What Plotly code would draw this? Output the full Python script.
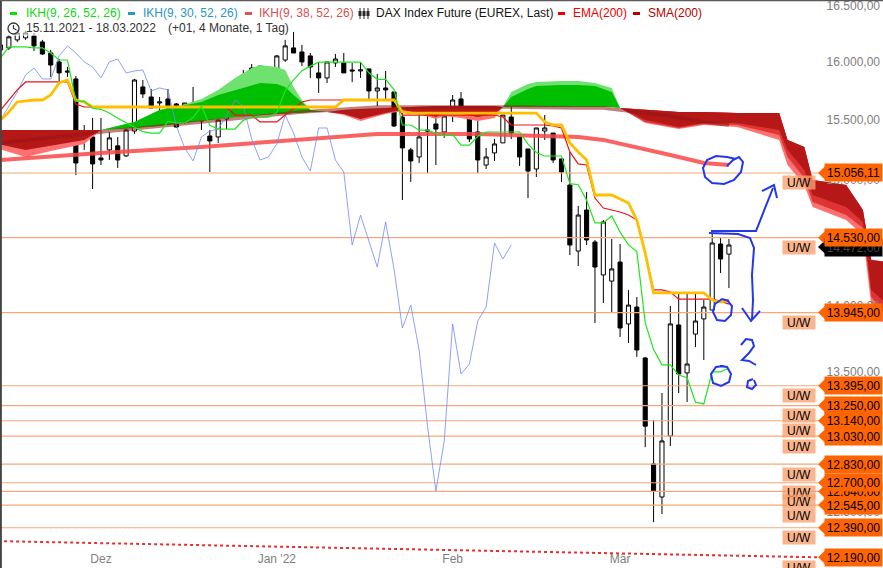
import math
import plotly.graph_objects as go

W, H = 883, 568
FONT = "Liberation Sans, Arial, sans-serif"

# ---------------- data (x = trading-day index, 0 = 15.11.2021 ... 87 = 18.03.2022) -------------
month_ticks = [12, 33, 54, 74]
month_labels = ["Dez", "Jan '22", "Feb", "Mär"]
price_ticks = [12500, 13000, 13500, 14000, 14500, 15000, 15500, 16000, 16500]

opens = [16109, 16127, 16198, 16216, 16234, 16180, 16082, 16003, 15924, 15854,
         15357, 15357, 15181, 15248, 15282, 15198, 15407, 15785, 15698, 15646,
         15681, 15638, 15543, 15646, 15586, 15365, 15357, 15509, 15612, 15759,
         15863, 15967, 15845, 15889, 16020, 16127, 16091, 16056, 15907, 15863,
         15994, 15994, 15933, 15924, 15942, 15750, 15776, 15741, 15526, 15248,
         15189, 15416, 15467, 15399, 15543, 15681, 15560, 15399, 15122, 15223,
         15307, 15526, 15357, 15256, 15089, 15407, 15390, 15173, 14957, 14424,
         14753, 14496, 14236, 14188, 14337, 13858, 13987, 13601, 12832, 12601,
         13030, 13850, 13490, 13781, 13896, 13964, 14480, 14400]
highs = [16198, 16243, 16287, 16278, 16260, 16198, 16109, 16029, 15959, 15880,
         15458, 15518, 15518, 15399, 15357, 15424, 15854, 15845, 15767, 15698,
         15767, 15646, 15646, 15785, 15590, 15416, 15501, 15663, 15785, 15933,
         15985, 15967, 15907, 16064, 16198, 16269, 16153, 16082, 16003, 16003,
         16073, 16082, 15994, 15994, 15942, 15898, 15924, 15741, 15586, 15265,
         15560, 15586, 15569, 15577, 15715, 15741, 15603, 15492, 15265, 15340,
         15543, 15612, 15357, 15256, 15433, 15543, 15390, 15173, 15231, 14785,
         14899, 14512, 14672, 14520, 14480, 14119, 14064, 13609, 13145, 13342,
         13995, 14095, 14095, 14088, 14041, 14568, 14528, 14520]
lows = [16091, 16109, 16180, 16198, 16100, 16064, 15871, 15828, 15871, 15039,
        15248, 14924, 15122, 15164, 15098, 15189, 15382, 15689, 15603, 15552,
        15595, 15433, 15467, 15484, 15416, 15064, 15307, 15424, 15586, 15663,
        15828, 15802, 15802, 15854, 16003, 16082, 15967, 15863, 15733, 15819,
        15959, 15907, 15828, 15863, 15663, 15620, 15663, 15441, 14834, 14982,
        15139, 15056, 15122, 15349, 15484, 15603, 15315, 15056, 15089, 15156,
        15307, 15340, 15114, 14850, 15023, 15332, 15139, 14982, 14392, 14306,
        14472, 13865, 14018, 13941, 13759, 13714, 13609, 12951, 12428, 12484,
        12959, 13342, 13276, 13683, 13586, 13964, 14251, 14134]
closes = [16153, 16225, 16260, 16260, 16145, 16073, 15976, 15907, 15915, 15139,
          15349, 15131, 15164, 15349, 15164, 15416, 15845, 15724, 15603, 15655,
          15603, 15441, 15646, 15595, 15492, 15323, 15501, 15620, 15741, 15889,
          15950, 15854, 15854, 16056, 16145, 16082, 16003, 15959, 15863, 16003,
          16029, 15907, 15924, 15933, 15750, 15776, 15759, 15450, 15265, 15156,
          15357, 15407, 15424, 15535, 15672, 15620, 15340, 15164, 15189, 15298,
          15543, 15390, 15189, 15072, 15433, 15433, 15164, 15064, 14472, 14712,
          14512, 14298, 14656, 14283, 13827, 14002, 13661, 13101, 12642, 12995,
          13858, 13482, 13556, 13880, 13987, 14488, 14361, 14472]
idx = list(range(len(closes)))

# IKH(9,26,52,26) conversion line (green)
tenkan = [16038, 16136, 16136, 16136, 16127, 16127, 16082, 16020, 16020, 15663,
          15663, 15601, 15592, 15561, 15516, 15476, 15441, 15402, 15389, 15389,
          15488, 15476, 15476, 15521, 15618, 15455, 15424, 15424, 15424, 15498,
          15524, 15524, 15524, 15564, 15752, 15846, 15927, 15966, 16001, 16001,
          16001, 16001, 16001, 16001, 15908, 15851, 15851, 15762, 15458, 15458,
          15414, 15414, 15388, 15366, 15379, 15288, 15288, 15362, 15399, 15399,
          15399, 15399, 15399, 15296, 15227, 15197, 15197, 15197, 14968, 14959,
          14832, 14649, 14649, 14704, 14575, 14473, 14420, 13868, 13664, 13550,
          13550, 13474, 13454, 13274, 13262, 13498, 13498, 13526]
# base line (thick yellow)
kijun = ([15501, 15569, 15655, 15663, 15672, 15672, 15715, 15819, 15845, 15672, 15655]
         + [15612] * 30 + [15672] * 7 + [15569] + [15560] * 16
         + [15484, 15458, 15458, 15307, 15231, 15164, 14875, 14875, 14875, 14842,
            14810, 14672, 14408]
         + [14096] * 7 + [14041, 14025, 14041])
# IKH(9,38,52,26) base line (thin red)
kijun38 = ([15586, 15672, 15759] + [15828] * 6 + [15638] + [15612] * 18
           + [15543] * 3 + [15484] * 3 + [15543, 15603, 15655] + [15672] * 11
           + [15543] * 12 + [15526] + [15458] * 5
           + [15450, 15433, 15231, 15131, 15122, 14850, 14769, 14753, 14737, 14712,
              14672, 14408, 14119, 14119, 14103]
           + [14048] * 5 + [14033, 14010])
chikou_shift = 26

ema_x = [0, 12, 24, 36, 45, 57, 69, 72, 76, 80, 84, 87]
ema_y = [15164, 15223, 15273, 15332, 15382, 15382, 15357, 15332, 15273, 15206, 15139, 15122]
sma_x = [0, 12, 24, 36, 45, 60, 69, 72, 80, 84, 87]
sma_y = [15307, 15399, 15484, 15569, 15612, 15612, 15603, 15603, 15535, 15484, 15458]

# Ichimoku clouds (shifted 26 days forward)
redL_x = [-1, 3, 6, 10, 12]
redL_top = [15416, 15416, 15416, 15416, 15416]
redL_dark = [15307, 15248, 15282, 15332, 15416]
redL_light = [15273, 15189, 15240, 15298, 15416]

grn1_x = [12, 16, 19, 21, 24, 26, 28, 30, 31, 33, 34, 35, 36, 37, 39]
grn1_dark = [15416, 15484, 15586, 15612, 15655, 15715, 15759, 15802, 15819, 15811, 15785, 15715, 15655, 15586, 15569]
grn1_light = [15416, 15484, 15586, 15612, 15681, 15759, 15863, 15950, 15976, 15959, 15933, 15785, 15672, 15586, 15569]
grn1_bot = [15416, 15433, 15450, 15467, 15492, 15509, 15526, 15535, 15543, 15552, 15552, 15560, 15560, 15569, 15569]

redM_x = [39, 41, 43, 46, 48, 50, 52, 53, 55, 57, 59, 60]
redM_top = [15569, 15586, 15595, 15603, 15612, 15620, 15620, 15620, 15620, 15620, 15620, 15612]
redM_dark = [15569, 15552, 15509, 15560, 15586, 15560, 15526, 15560, 15552, 15526, 15552, 15612]
redM_light = [15569, 15543, 15492, 15552, 15577, 15552, 15509, 15535, 15518, 15492, 15518, 15612]

grn2_x = [60, 61, 63, 64, 67, 69, 71, 73, 74]
grn2_dark = [15612, 15698, 15767, 15793, 15802, 15802, 15793, 15741, 15603]
grn2_light = [15612, 15741, 15811, 15828, 15837, 15837, 15819, 15776, 15603]
grn2_bot = [15612, 15612, 15612, 15612, 15612, 15612, 15612, 15612, 15603]

redR_x = [74, 77, 81, 84, 88, 91, 93, 94, 96, 97, 101, 103, 104, 106]
redR_top = [15603, 15586, 15569, 15569, 15560, 15560, 15560, 15332, 15273, 14998, 14957, 14753, 14353, 14337]
redR_b1 = [15603, 15501, 15441, 15475, 15475, 15441, 15416, 15248, 15081, 14875, 14777, 14656, 14119, 14002]
redR_b2 = [15603, 15484, 15433, 15467, 15458, 15407, 15374, 15189, 15015, 14818, 14712, 14608, 14064, 13903]
redR_b3 = [15603, 15475, 15424, 15458, 15441, 15374, 15332, 15122, 14957, 14777, 14672, 14552, 14002, 13812]

levels = [15056.11, 14530, 13945, 13395, 13250, 13140, 13030, 12830, 12700, 12640, 12545, 12390]
trend_x = [-1, 98]
trend_y = [12300, 12190]
trend_value = 12190

# ---------------- helpers ----------------
ylo, yhi = math.log10(12119), math.log10(16557)
xlo, xhi = -0.06, 105.4


def ypaper(v):
    return (math.log10(v) - ylo) / (yhi - ylo)


def de(v):
    s = f"{v:,.2f}"
    return s.replace(",", "X").replace(".", ",").replace("X", ".")


fig = go.Figure()


def band(x, upper, lower, color):
    fig.add_trace(go.Scatter(x=x + x[::-1], y=upper + lower[::-1], mode="lines",
                             fill="toself", fillcolor=color, line=dict(width=0),
                             hoverinfo="skip", showlegend=False))


def line(x, y, color, width, dash=None):
    fig.add_trace(go.Scatter(x=x, y=y, mode="lines",
                             line=dict(color=color, width=width, dash=dash),
                             hoverinfo="skip", showlegend=False))


# level lines
lvl_end = 97.7
for v in levels:
    line([-1, lvl_end], [v, v], "rgb(246,168,120)", 1.2)

# clouds
DARK_RED = "rgb(182,24,24)"
MID_RED = "rgb(222,52,52)"
LIGHT_RED = "rgb(255,112,112)"
DARK_GRN = "rgb(0,190,0)"
LIGHT_GRN = "rgb(110,225,110)"

band(redL_x, redL_top, redL_light, LIGHT_RED)
band(redL_x, redL_top, redL_dark, DARK_RED)
band(grn1_x, grn1_light, grn1_bot, LIGHT_GRN)
band(grn1_x, grn1_dark, grn1_bot, DARK_GRN)
band(redM_x, redM_top, redM_light, LIGHT_RED)
band(redM_x, redM_top, redM_dark, DARK_RED)
band(grn2_x, grn2_light, grn2_bot, LIGHT_GRN)
band(grn2_x, grn2_dark, grn2_bot, DARK_GRN)
band(redR_x, redR_top, redR_b3, LIGHT_RED)
band(redR_x, redR_top, redR_b2, MID_RED)
band(redR_x, redR_top, redR_b1, DARK_RED)

# trend line (dotted)
line(trend_x, trend_y, "rgb(235,45,45)", 2, "dot")

# moving averages
line(ema_x, ema_y, "rgba(250,70,70,0.85)", 4)
line(sma_x, sma_y, "rgba(150,20,20,0.55)", 3.5)

# ichimoku lines
line(idx[:-chikou_shift], closes[chikou_shift:], "rgba(110,140,250,0.8)", 1)
line(idx, kijun38, "rgb(235,20,20)", 1.2)
line(idx, kijun, "rgb(255,190,0)", 2.8)
line(idx, tenkan, "rgb(30,230,30)", 1.2)

# candles
fig.add_trace(go.Candlestick(
    x=idx, open=opens, high=highs, low=lows, close=closes,
    increasing=dict(line=dict(color="black", width=1), fillcolor="white"),
    decreasing=dict(line=dict(color="black", width=1), fillcolor="black"),
    whiskerwidth=0, hoverinfo="skip", showlegend=False))

shapes = []
annotations = []


def xp(px):
    return px / W


def yp(py):
    return 1 - py / H


# semi-transparent header backdrop
shapes.append(dict(type="rect", xref="paper", yref="paper", x0=0, x1=xp(290), y0=yp(36), y1=1,
                   fillcolor="rgba(255,255,255,0.55)", line=dict(width=0), layer="above"))
# frame lines
shapes.append(dict(type="line", xref="paper", yref="paper", x0=0.001, x1=0.001, y0=0, y1=1,
                   line=dict(color="rgb(70,70,70)", width=2), layer="above"))
shapes.append(dict(type="line", xref="paper", yref="paper", x0=0, x1=1, y0=0.999, y1=0.999,
                   line=dict(color="rgb(90,90,90)", width=1.5), layer="above"))

# legend dashes
for x0, col in [(10, "rgb(0,230,0)"), (128, "rgb(40,150,200)"), (245, "rgb(220,80,80)"),
                (558, "rgb(240,0,0)"), (633, "rgb(180,0,0)")]:
    shapes.append(dict(type="rect", xref="paper", yref="paper", x0=xp(x0), x1=xp(x0 + 7),
                       y0=yp(15), y1=yp(12), fillcolor=col, line=dict(width=0), layer="above"))
# candle icon
for cx in (360, 364, 368):
    shapes.append(dict(type="line", xref="paper", yref="paper", x0=xp(cx), x1=xp(cx),
                       y0=yp(19), y1=yp(8), line=dict(color="rgb(40,40,40)", width=1), layer="above"))
    shapes.append(dict(type="rect", xref="paper", yref="paper", x0=xp(cx - 1.5), x1=xp(cx + 1.5),
                       y0=yp(16), y1=yp(11), fillcolor="rgb(40,40,40)", line=dict(width=0), layer="above"))
# clock icon
shapes.append(dict(type="circle", xref="paper", yref="paper", x0=xp(8), x1=xp(19), y0=yp(34), y1=yp(23),
                   line=dict(color="rgb(50,50,50)", width=1.3), layer="above"))
shapes.append(dict(type="path", xref="paper", yref="paper",
                   path=f"M {xp(13.5)},{yp(25)} L {xp(13.5)},{yp(28.5)} L {xp(16.5)},{yp(30)}",
                   line=dict(color="rgb(50,50,50)", width=1.2), layer="above"))

# header texts
hdr = [(25, 13, "IKH(9, 26, 52, 26)", "rgb(20,215,20)"),
       (142, 13, "IKH(9, 30, 52, 26)", "rgb(40,150,200)"),
       (258, 13, "IKH(9, 38, 52, 26)", "rgb(215,80,80)"),
       (375, 13, "DAX Index Future (EUREX, Last)", "rgb(20,20,20)"),
       (572, 13, "EMA(200)", "rgb(240,0,0)"),
       (647, 13, "SMA(200)", "rgb(185,0,0)"),
       (25, 28, "15.11.2021 - 18.03.2022", "rgb(50,50,50)"),
       (167, 28, "(+01, 4 Monate, 1 Tag)", "rgb(50,50,50)")]
for x, y, t, c in hdr:
    annotations.append(dict(xref="paper", yref="paper", x=xp(x), y=yp(y), text=t, showarrow=False,
                            xanchor="left", yanchor="middle", borderpad=0,
                            font=dict(family=FONT, size=12, color=c)))

# U/W boxes
for v in levels + [trend_value]:
    annotations.append(dict(xref="paper", yref="y", x=xp(799), y=math.log10(v), yshift=-10,
                            text="U/W", showarrow=False, xanchor="center", yanchor="middle",
                            width=32, height=13, borderpad=0,
                            bgcolor="rgba(250,160,110,0.78)",
                            font=dict(family=FONT, size=12, color="black")))


def tag(v, bg, fg, yshift=0):
    yc = ypaper(v) - yshift / H
    dy = 8.5 / H
    shapes.append(dict(type="path", xref="paper", yref="paper",
                       path=f"M {xp(827)},{yc + dy} L {xp(818)},{yc} L {xp(827)},{yc - dy} Z",
                       fillcolor=bg, line=dict(width=0), layer="above"))
    annotations.append(dict(xref="paper", yref="y", x=1, y=math.log10(v), yshift=-yshift,
                            text=de(v), showarrow=False, xanchor="right", yanchor="middle",
                            width=57, height=17, borderpad=0, bgcolor=bg,
                            font=dict(family=FONT, size=12, color=fg)))


# last price tag (mostly hidden behind the 14.530 tag)
tag(closes[-1], "black", "rgb(70,70,70)", yshift=2)
tag_order = [12640] + [v for v in levels if v != 12640] + [trend_value]
for v in tag_order:
    tag(v, "rgb(255,100,0)", "black")

# hand-drawn blue marks
blue = "rgb(35,55,235)"
scribbles = [
    [(727, 166), (733, 160), (739, 157), (743, 162), (741, 172), (734, 180), (724, 184), (712, 183),
     (705, 177), (703, 168), (707, 160), (716, 156), (727, 157), (736, 159)],
    [(711, 231), (756, 231), (773, 188)],
    [(762, 191), (774, 185), (777, 198)],
    [(709, 233), (738, 234), (750, 238), (754, 248), (752, 275), (753, 300), (752, 320)],
    [(742, 308), (751, 321), (760, 311)],
    [(729, 301), (722, 299), (715, 304), (713, 312), (717, 320), (725, 321), (731, 315), (732, 306),
     (727, 300)],
    [(724, 366), (716, 367), (711, 374), (713, 383), (721, 386), (729, 382), (731, 374), (727, 367),
     (720, 366)],
    [(741, 345), (746, 339), (752, 340), (754, 346), (749, 353), (742, 360), (749, 361), (756, 365)],
    [(753, 379), (748, 381), (747, 387), (752, 389), (756, 385), (754, 380)],
]
for pts in scribbles:
    p = "M " + " L ".join(f"{xp(a):.5f},{yp(b):.5f}" for a, b in pts)
    shapes.append(dict(type="path", xref="paper", yref="paper", path=p,
                       line=dict(color=blue, width=2), layer="above"))

fig.update_layout(
    width=W, height=H, margin=dict(l=0, r=0, t=0, b=0),
    paper_bgcolor="white", plot_bgcolor="white",
    separators=",.", showlegend=False,
    font=dict(family=FONT),
    xaxis=dict(range=[xlo, xhi], tickvals=month_ticks, ticktext=month_labels,
               ticklabelposition="inside", ticks="", showgrid=False, zeroline=False,
               showline=False, rangeslider=dict(visible=False),
               tickfont=dict(family=FONT, size=12, color="rgb(128,128,128)")),
    yaxis=dict(type="log", range=[ylo, yhi], side="right", tickvals=price_ticks,
               tickformat=",.2f", ticklabelposition="inside", ticklabeloverflow="allow",
               ticks="", showgrid=False, zeroline=False, showline=False,
               tickfont=dict(family=FONT, size=12, color="rgb(128,128,128)")),
    shapes=shapes, annotations=annotations,
)

fig.write_html("out.html", config={"displayModeBar": False},
               post_script="document.body.style.margin='0px';document.body.style.overflow='hidden';")
